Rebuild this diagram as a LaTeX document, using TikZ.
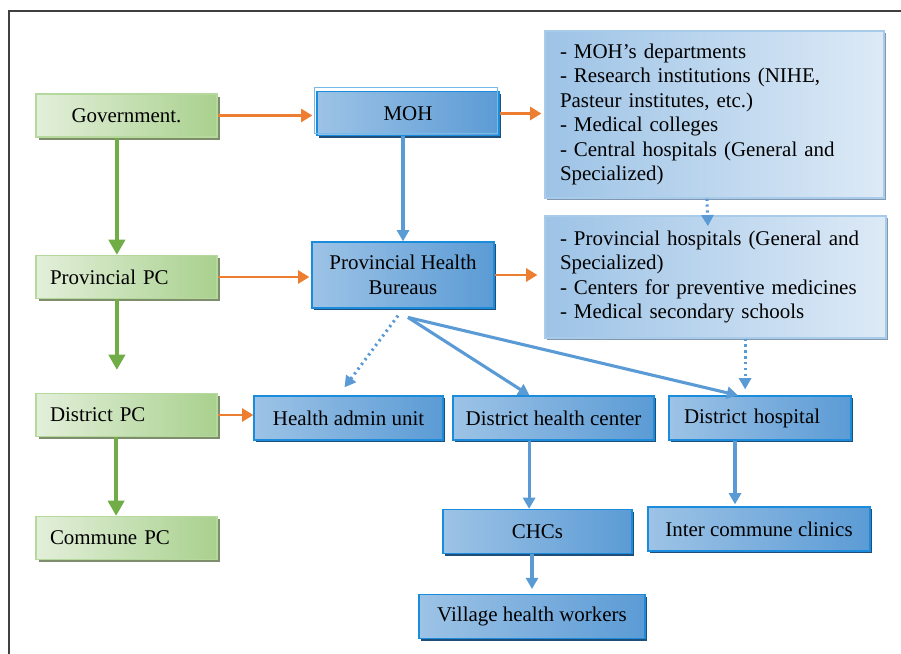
\documentclass[tikz,border=0pt]{standalone}
\usepackage{fontspec}
\setmainfont{Liberation Serif}
\usepackage{tikz}
\usetikzlibrary{positioning,calc,shadows,arrows.meta}
\definecolor{pcgreenL}{HTML}{E3EFDA}
\definecolor{pcgreenR}{HTML}{A9D18E}
\definecolor{pcedge}{HTML}{B5D99C}
\definecolor{pcshade}{HTML}{7E8E6C}
\definecolor{hbL}{HTML}{9DC3E6}
\definecolor{hbR}{HTML}{5B9BD5}
\definecolor{hbedge}{HTML}{1A8CDB}
\definecolor{hbshade}{HTML}{1F4E79}
\definecolor{lbL}{HTML}{9DC3E6}
\definecolor{lbR}{HTML}{DDEAF6}
\definecolor{lbedge}{HTML}{A9CBEA}
\definecolor{lbshade}{HTML}{8497B0}
\definecolor{arrorange}{HTML}{ED7D31}
\definecolor{arrgreen}{HTML}{70AD47}
\definecolor{arrblue}{HTML}{5B9BD5}

\begin{document}
\begin{tikzpicture}[
	font=\fontsize{14.9}{17.4}\selectfont,
	pcbox/.style={
		draw=pcedge, line width=0.8pt, left color=pcgreenL, right color=pcgreenR,
		minimum height=1.075cm, inner xsep=0.35cm, text width=3.825cm, align=left,
		drop shadow={shadow xshift=0.07cm, shadow yshift=-0.07cm, fill=pcshade, opacity=1}
	},
	hbox/.style={
		draw=hbedge, line width=0.9pt, left color=hbL, right color=hbR,
		minimum height=1.1cm, align=center,
		drop shadow={shadow xshift=0.06cm, shadow yshift=-0.06cm, fill=hbshade, opacity=1}
	},
	listbox/.style={
		draw=lbedge, line width=0.8pt, left color=lbL, right color=lbR,
		inner xsep=0.375cm, align=left,
		drop shadow={shadow xshift=0.06cm, shadow yshift=-0.06cm, fill=lbshade, opacity=1}
	},
	orangearr/.style={draw=arrorange, line width=2pt, -{Triangle[width=0.32cm,length=0.28cm]}},
	greenarr/.style={draw=arrgreen, line width=2.8pt, -{Triangle[width=0.4cm,length=0.38cm]}},
	bluearr/.style={draw=arrblue, line width=2.2pt, -{Triangle[width=0.3cm,length=0.28cm]}},
	dotarr/.style={bluearr, dash pattern=on 1.6pt off 2.6pt}
	]
	\useasboundingbox (0,0) rectangle (22.525,-16.35);
	\draw[black!75, line width=0.8pt] (0.225,-16.35) |- (22.525,-0.275);
	
	% People's committees, left column
	\node[pcbox, align=center] (gov)    at (3.1625,-2.8875) {Government.};
	\node[pcbox]               (pcprov) at (3.1625,-6.925)  {Provincial PC};
	\node[pcbox]               (pcdist) at (3.1625,-10.375) {District PC};
	\node[pcbox]               (pccom)  at (3.1625,-13.45)  {Commune PC};
	
	% health system
	\node[hbox, minimum width=4.55cm]  (moh) at (10.2,-2.8375) {MOH};
	\draw[hbedge!60, line width=0.6pt] ($(moh.north west)+(-0.05,0.08)$) rectangle ($(moh.south east)+(-0.05,0.08)$);
	\node[hbox, minimum width=4.55cm, minimum height=1.65cm] (phb) at (10.075,-6.875) {Provincial Health\\Bureaus};
	\node[hbox, minimum width=4.725cm] (hau)   at (8.7125,-10.45)  {Health admin unit};
	\node[hbox, minimum width=5.025cm] (dhc)   at (13.8375,-10.45) {District health center};
	\node[hbox, inner xsep=0.375cm, text width=3.8cm, align=left] (dhosp) at (19.0,-10.45) {District hospital};
	\node[hbox, minimum width=4.725cm] (chcs)  at (13.4375,-13.2875) {CHCs};
	\node[hbox, minimum width=5.55cm]  (icc)   at (18.975,-13.225)  {Inter commune clinics};
	\node[hbox, minimum width=5.65cm]  (vhw)   at (13.3,-15.4125)   {Village health workers};
	
	% central and provincial units
	\node[listbox, text width=7.725cm, minimum height=4.175cm] (lbcentral) at (17.8625,-2.8625)
		{- MOH’s departments\\- Research institutions (NIHE,\\Pasteur institutes, etc.)\\- Medical colleges\\- Central hospitals (General and\\Specialized)};
	\node[listbox, text width=7.775cm, minimum height=3.05cm] (lbprov) at (17.8875,-6.925)
		{- Provincial hospitals (General and\\Specialized)\\- Centers for preventive medicines\\- Medical secondary schools};
	
	% orange links
	\draw[orangearr, shorten >=0.1cm] (gov.east) -- (gov.east -| moh.west);
	\draw[orangearr, shorten >=0.05cm] (pcprov.east) -- (pcprov.east -| phb.west);
	\draw[orangearr] (pcdist.east) -- (pcdist.east -| hau.west);
	\draw[orangearr, shorten >=0.075cm] (moh.east) -- (moh.east -| lbcentral.west);
	\draw[orangearr, shorten >=0.175cm] (phb.east) -- (phb.east -| lbprov.west);
	
	% green links
	\draw[greenarr] ([xshift=-0.24cm]gov.south) -- ([xshift=-0.24cm]pcprov.north);
	\draw[greenarr, shorten >=0.575cm] ([xshift=-0.24cm]pcprov.south) -- ([xshift=-0.24cm]pcdist.north);
	\draw[greenarr] ([xshift=-0.26cm]pcdist.south) -- ([xshift=-0.26cm]pccom.north);
	
	% blue links
	\coordinate (fan)  at ($(phb.south)+(0.125,-0.22)$);
	\coordinate (fan2) at ($(phb.south)+(-0.125,-0.175)$);
	\draw[bluearr] (phb.north |- moh.south) -- (phb.north);
	\draw[bluearr] (fan) -- ([xshift=-0.6cm]dhc.north);
	\draw[bluearr] (fan) -- ([xshift=-0.55cm]dhosp.north);
	\draw[dotarr] (fan2) -- ([shift={(-0.1,0.2)}]hau.north);
	\draw[dotarr] ([xshift=-0.19cm]lbcentral.south) -- ([xshift=-0.19cm,yshift=-0.27cm]lbprov.north);
	\draw[dotarr, shorten >=0.15cm] ([xshift=0.74cm]lbprov.south) -- ([xshift=0.74cm]lbprov.south |- dhosp.north);
	\draw[bluearr] ([xshift=-0.21cm]chcs.north |- dhc.south) -- ([xshift=-0.21cm]chcs.north);
	\draw[bluearr, shorten >=0.05cm] ([xshift=-0.6cm]icc.north |- dhosp.south) -- ([xshift=-0.6cm]icc.north);
	\draw[bluearr, shorten >=0.12cm] (vhw.north |- chcs.south) -- (vhw.north);
\end{tikzpicture}
\end{document}
